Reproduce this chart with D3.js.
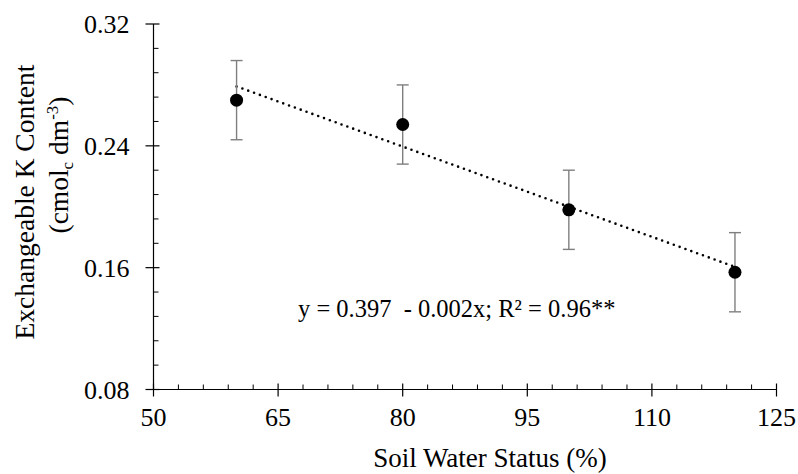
<!DOCTYPE html>
<html>
<head>
<meta charset="utf-8">
<script src="https://cdn.jsdelivr.net/npm/d3@7"></script>
<style>
  body { margin: 0; background: #fff; }
  text { font-family: "Liberation Serif", "Times New Roman", serif; fill: #000; }
</style>
</head>
<body>
<div class="chart"></div>
<script>
// soil water status (%) vs exchangeable K
var waterStatus = [60, 80, 100, 120]
var kContent = [0.270, 0.254, 0.198, 0.157]
var kError = [0.026, 0.026, 0.026, 0.026]

var xTicks = [50, 65, 80, 95, 110, 125]
var yTicks = [0.08, 0.16, 0.24, 0.32]
var equationText = "y = 0.397  - 0.002x; R\u00b2 = 0.96**"

var width = 798
var height = 474
// plot box (don't call it "top", that's window.top)
var pLeft = 153.5, pRight = 776.5, pTop = 24, pBottom = 389.5

var svg = d3.select(".chart").append("svg")
    .attr("width", width)
    .attr("height", height)

var x = d3.scaleLinear().domain([50, 125]).range([pLeft, pRight])
var y = d3.scaleLinear().domain([0.08, 0.32]).range([pBottom, pTop])

// minor ticks (inside)
var xMinor = d3.range(50, 125.01, 3).filter(function(d){ return (d - 50) % 15 != 0 })
var yMinor = d3.range(0, 16).map(function(i){ return 0.08 + i * 0.016 })
  .filter(function(d, i){ return i % 5 != 0 })

var xAxis = svg.append("g").attr("transform", "translate(0," + pBottom + ")")
xAxis.append("line").attr("x1", pLeft).attr("x2", pRight).attr("stroke", "#000").attr("stroke-width", 1.2)
xAxis.selectAll(".minor").data(xMinor).enter().append("line")
    .attr("x1", function(d){ return x(d) }).attr("x2", function(d){ return x(d) })
    .attr("y1", 0).attr("y2", -5)
    .attr("stroke", "#000").attr("stroke-width", 1)
xAxis.selectAll(".major").data(xTicks).enter().append("line")
    .attr("x1", function(d){ return x(d) }).attr("x2", function(d){ return x(d) })
    .attr("y1", -6).attr("y2", 7)
    .attr("stroke", "#000").attr("stroke-width", 1.2)
xAxis.selectAll("text").data(xTicks).enter().append("text")
    .attr("x", function(d){ return x(d) }).attr("y", 36)
    .attr("text-anchor", "middle")
    .style("font-size", "26px")
    .text(function(d){ return d })

var yAxis = svg.append("g").attr("transform", "translate(" + pLeft + ",0)")
yAxis.append("line").attr("y1", pTop).attr("y2", pBottom).attr("stroke", "#000").attr("stroke-width", 1.2)
yAxis.selectAll(".minor").data(yMinor).enter().append("line")
    .attr("y1", function(d){ return y(d) }).attr("y2", function(d){ return y(d) })
    .attr("x1", 0).attr("x2", 5)
    .attr("stroke", "#000").attr("stroke-width", 1)
yAxis.selectAll(".major").data(yTicks).enter().append("line")
    .attr("y1", function(d){ return y(d) }).attr("y2", function(d){ return y(d) })
    .attr("x1", -8).attr("x2", 6)
    .attr("stroke", "#000").attr("stroke-width", 1.2)
yAxis.selectAll("text").data(yTicks).enter().append("text")
    .attr("x", -24).attr("y", function(d){ return y(d) + 9 })
    .attr("text-anchor", "end")
    .style("font-size", "26px")
    .text(function(d){ return d.toFixed(2) })

// axis titles
svg.append("text")
    .attr("x", (pLeft + pRight) / 2 + 25).attr("y", 467)
    .attr("text-anchor", "middle")
    .style("font-size", "27px")
    .text("Soil Water Status (%)")

svg.append("text")
    .attr("transform", "translate(34,202) rotate(-90)")
    .attr("text-anchor", "middle")
    .style("font-size", "27.5px")
    .text("Exchangeable K Content")

var unit = svg.append("text")
    .attr("transform", "translate(68,165) rotate(-90)")
    .attr("text-anchor", "middle")
    .style("font-size", "27.5px")
unit.append("tspan").text("(cmol")
unit.append("tspan").attr("dy", 5).style("font-size", "17px").text("c")
unit.append("tspan").attr("dy", -5).text(" dm")
unit.append("tspan").attr("dy", -10).style("font-size", "17px").text("-3")
unit.append("tspan").attr("dy", 10).text(")")

// least squares trend line
var mx = d3.mean(waterStatus), my = d3.mean(kContent)
var sxy = 0, sxx = 0
for (var i = 0; i < waterStatus.length; i++) {
  sxy += (waterStatus[i] - mx) * (kContent[i] - my)
  sxx += (waterStatus[i] - mx) * (waterStatus[i] - mx)
}
var slope = sxy / sxx
var icpt = my - slope * mx

svg.append("line")
    .attr("x1", x(60)).attr("y1", y(icpt + slope * 60))
    .attr("x2", x(120)).attr("y2", y(icpt + slope * 120))
    .attr("stroke", "#000")
    .attr("stroke-width", 2.6)
    .attr("stroke-linecap", "round")
    .attr("stroke-dasharray", "0 6.2")

// error bars
var pts = waterStatus.map(function(d, i){ return {x: d, y: kContent[i], e: kError[i]} })
var bars = svg.selectAll(".err").data(pts).enter().append("g")
bars.append("line")
    .attr("x1", function(d){ return x(d.x) }).attr("x2", function(d){ return x(d.x) })
    .attr("y1", function(d){ return y(d.y + d.e) }).attr("y2", function(d){ return y(d.y - d.e) })
    .attr("stroke", "#7f7f7f").attr("stroke-width", 1.4)
bars.append("line")
    .attr("x1", function(d){ return x(d.x) - 6 }).attr("x2", function(d){ return x(d.x) + 6 })
    .attr("y1", function(d){ return y(d.y + d.e) }).attr("y2", function(d){ return y(d.y + d.e) })
    .attr("stroke", "#7f7f7f").attr("stroke-width", 1.4)
bars.append("line")
    .attr("x1", function(d){ return x(d.x) - 6 }).attr("x2", function(d){ return x(d.x) + 6 })
    .attr("y1", function(d){ return y(d.y - d.e) }).attr("y2", function(d){ return y(d.y - d.e) })
    .attr("stroke", "#7f7f7f").attr("stroke-width", 1.4)

svg.selectAll("circle").data(pts).enter().append("circle")
    .attr("cx", function(d){ return x(d.x) })
    .attr("cy", function(d){ return y(d.y) })
    .attr("r", 6.5)
    .attr("fill", "#000")

svg.append("text")
    .attr("x", 298).attr("y", 317)
    .style("font-size", "24.5px")
    .style("white-space", "pre")
    .attr("xml:space", "preserve")
    .text(equationText)
</script>
</body>
</html>
